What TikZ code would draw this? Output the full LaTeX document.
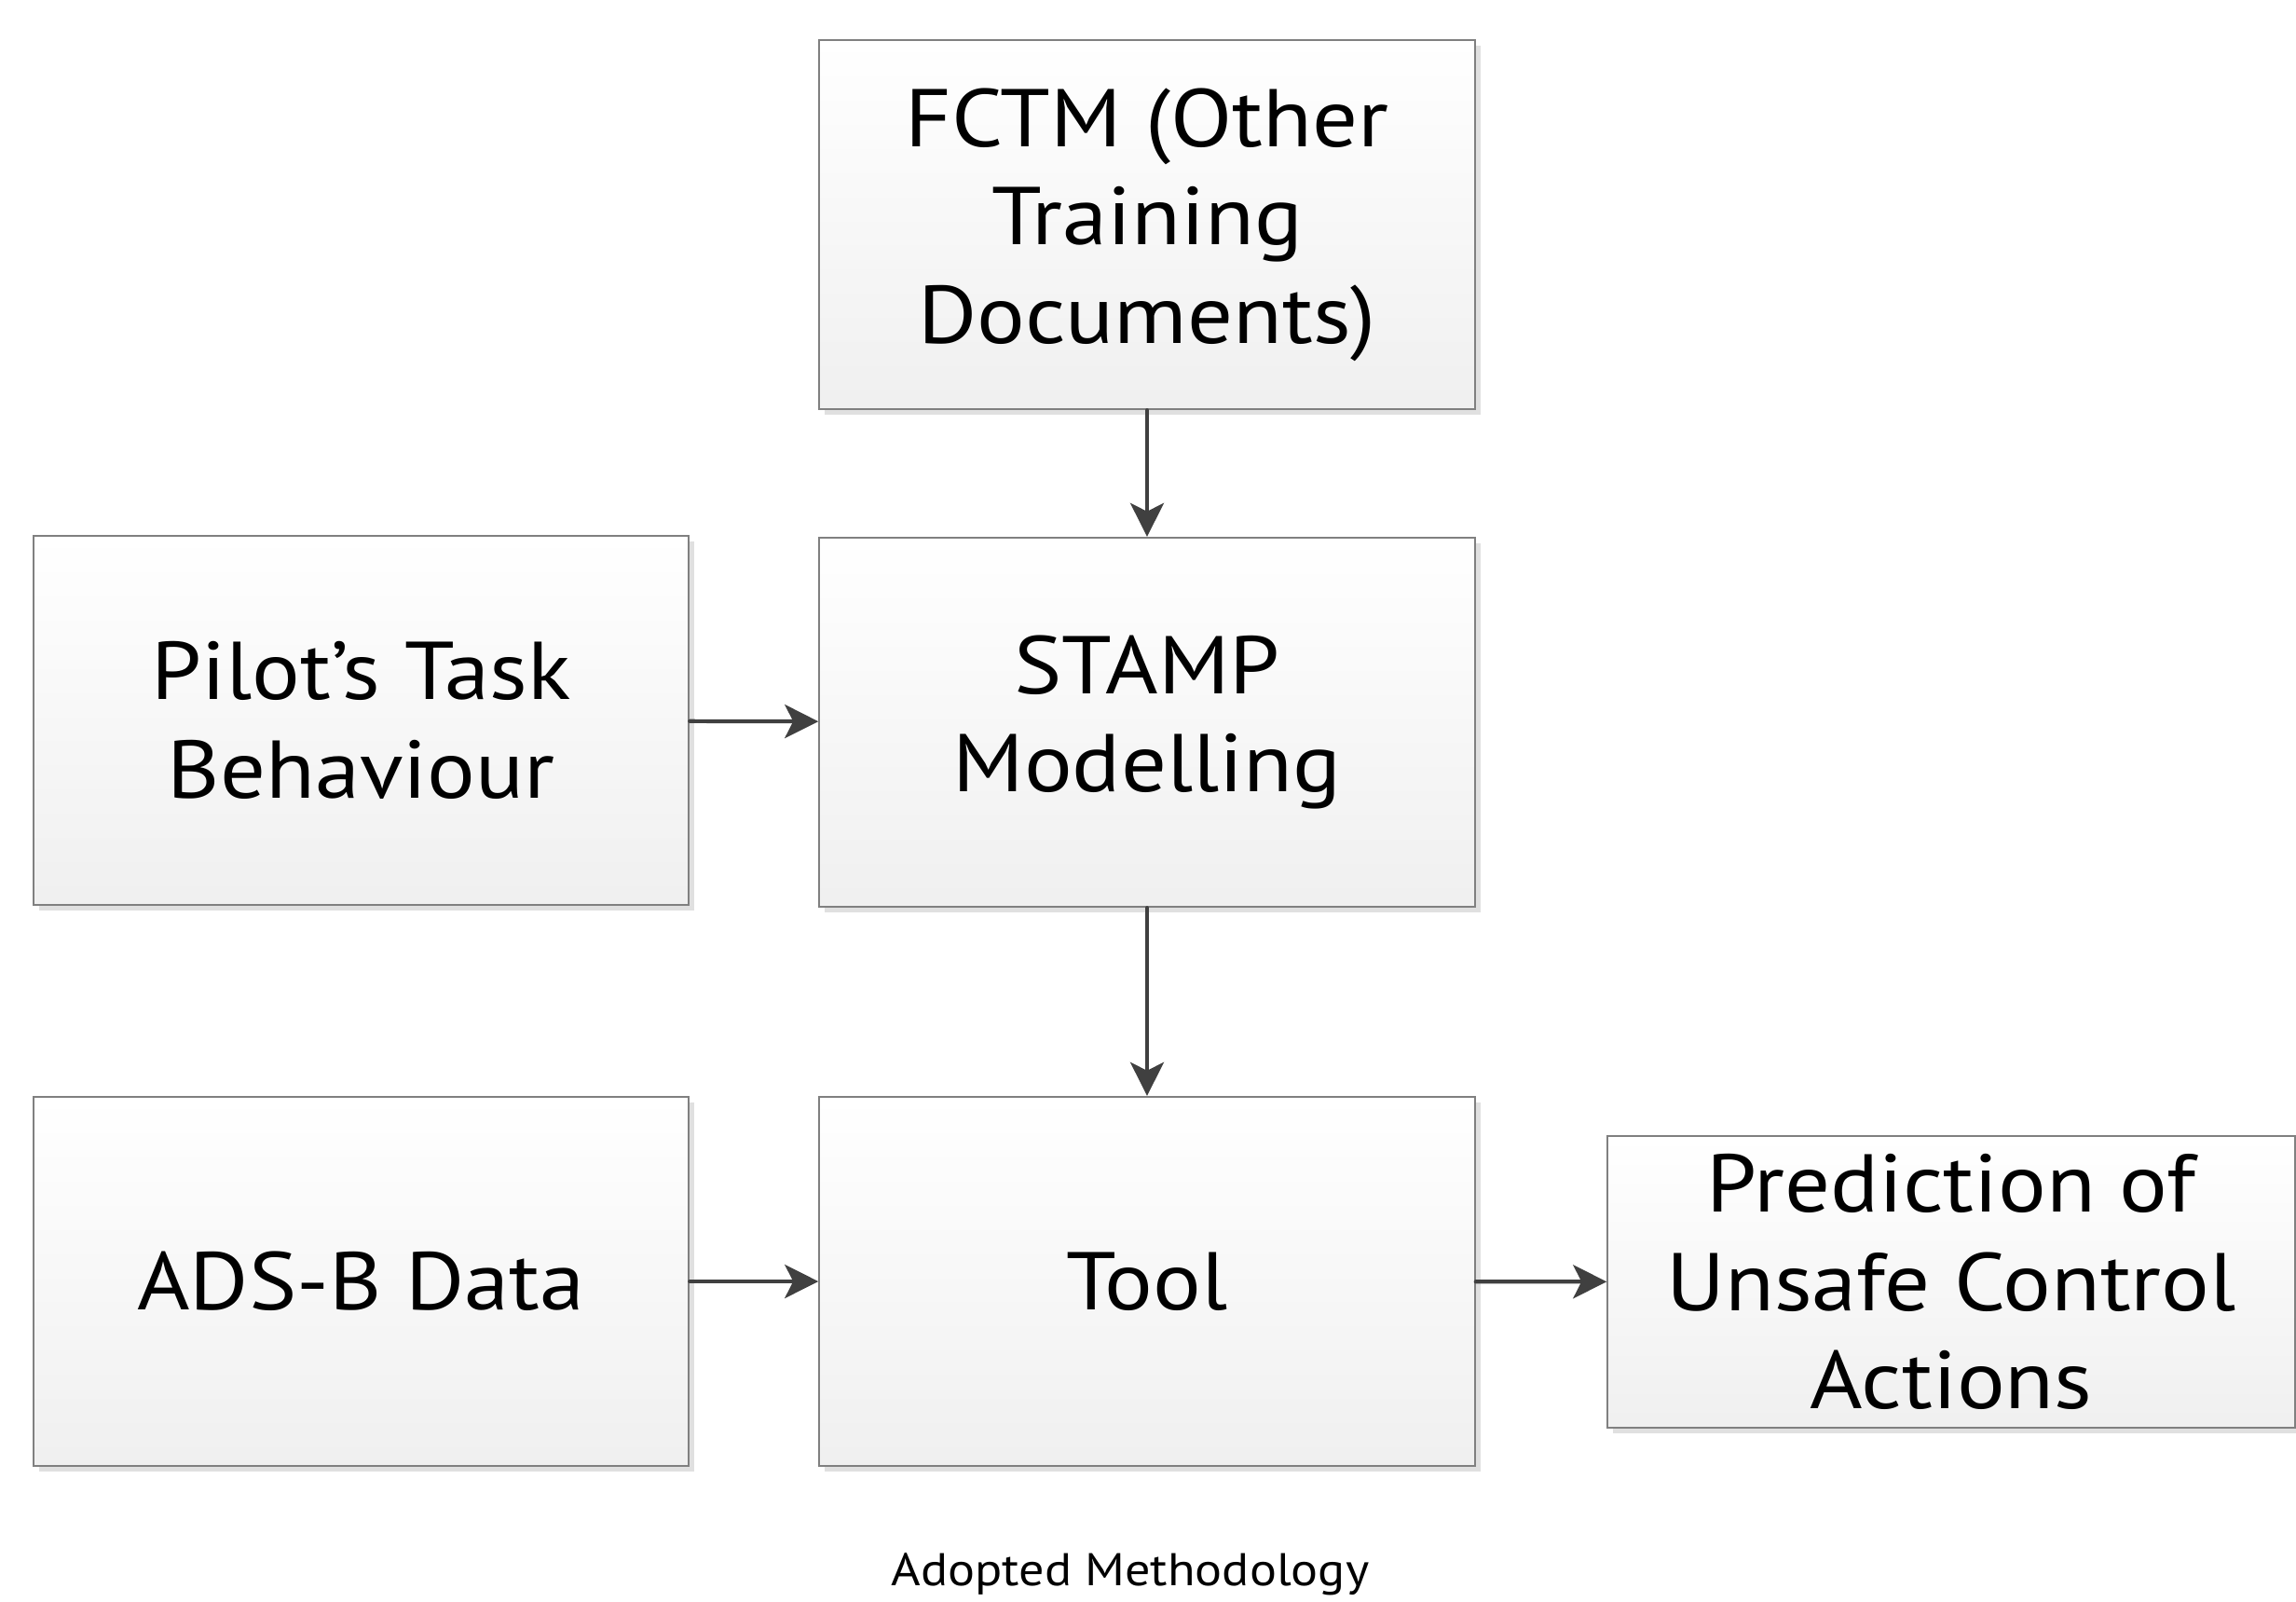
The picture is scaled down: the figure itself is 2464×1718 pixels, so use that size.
\documentclass[tikz,border=0pt]{standalone}
\usepackage{fontspec}
\setmainfont{PT Sans}[FakeStretch=1.1]
\usetikzlibrary{arrows.meta,shadows}
\begin{document}
\begin{tikzpicture}[x=0.01cm,y=-0.01cm,
  box/.style={draw=black!50, line width=0.6pt, top color=white, bottom color=black!6,
    drop shadow={shadow xshift=0.06cm, shadow yshift=-0.06cm, fill=black!12, opacity=1},
    minimum width=7.03cm, minimum height=3.96cm, align=center, inner sep=0pt,
    font=\fontsize{25}{30}\selectfont},
  conn/.style={draw=black!75, line width=1.2pt, line cap=round,
    -{Stealth[length=0.36cm, width=0.36cm, inset=0.09cm]}}]
\useasboundingbox (0,0) rectangle (2464,1718);
\node[box] (fctm) at (1231,241) {FCTM (Other\\Training\\Documents)};
\node[box] (pilot) at (387.5,773) {Pilot’s Task\\Behaviour};
\node[box] (stamp) at (1231,775) {STAMP\\Modelling};
\node[box] (adsb) at (387.5,1375) {ADS-B Data};
\node[box] (tool) at (1231,1375) {Tool};
\node[box, minimum width=7.37cm, minimum height=3.13cm] (pred) at (2094,1375.5) {Prediction of\\Unsafe Control\\Actions};
\node[font=\fontsize{14}{17}\selectfont] (cap) at (1213,1689) {Adopted Methodology};
\draw[conn] (fctm) -- (stamp);
\draw[conn] (pilot) -- (stamp);
\draw[conn] (stamp) -- (tool);
\draw[conn] (adsb) -- (tool);
\draw[conn] (tool) -- (pred);
\end{tikzpicture}
\end{document}
